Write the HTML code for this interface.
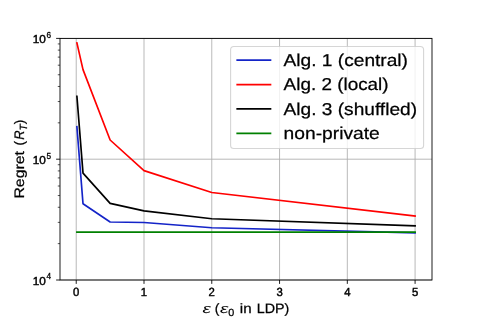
<!DOCTYPE html>
<html lang="en"><head><meta charset="utf-8"><title>Regret vs epsilon</title>
<style>
html,body{margin:0;padding:0;background:#fff;}
body{width:480px;height:320px;overflow:hidden;}
svg{display:block;will-change:transform;}
text{text-rendering:geometricPrecision;font-family:"Liberation Sans",sans-serif;fill:#000;stroke:#000;stroke-width:0.25;}
.i{font-style:italic;}
.tk{stroke-width:0.45;}
.sp{stroke-width:0.3;text-rendering:auto;}
</style></head><body>
<svg width="480" height="320" viewBox="0 0 480 320">
<rect width="480" height="320" fill="#fff"/>
<g stroke="#b0b0b0" stroke-width="0.89" fill="none">
<line x1="76.23" y1="38.40" x2="76.23" y2="280.00"/>
<line x1="144.00" y1="38.40" x2="144.00" y2="280.00"/>
<line x1="211.78" y1="38.40" x2="211.78" y2="280.00"/>
<line x1="279.55" y1="38.40" x2="279.55" y2="280.00"/>
<line x1="347.32" y1="38.40" x2="347.32" y2="280.00"/>
<line x1="415.09" y1="38.40" x2="415.09" y2="280.00"/>
<line x1="60.00" y1="280.00" x2="432.00" y2="280.00"/>
<line x1="60.00" y1="159.20" x2="432.00" y2="159.20"/>
<line x1="60.00" y1="38.40" x2="432.00" y2="38.40"/>
</g>
<g fill="none" stroke-width="1.67" stroke-linecap="square" stroke-linejoin="round">
<polyline stroke="#1424c8" points="76.91,126.70 83.01,203.75 110.12,222.00 144.00,222.50 211.78,227.75 415.09,232.80"/>
<polyline stroke="#ff0000" points="76.91,43.00 83.01,69.60 110.12,140.00 144.00,170.60 211.78,192.50 415.09,216.00"/>
<polyline stroke="#000000" points="76.91,96.30 83.01,173.10 110.12,203.40 144.00,210.90 211.78,218.75 415.09,225.90"/>
<polyline stroke="#008000" points="76.91,232.20 83.01,232.20 110.12,232.20 144.00,232.20 211.78,232.20 415.09,232.20"/>
</g>
<g stroke="#000" stroke-width="0.89" fill="none">
<line x1="76.23" y1="280.00" x2="76.23" y2="283.89"/>
<line x1="144.00" y1="280.00" x2="144.00" y2="283.89"/>
<line x1="211.78" y1="280.00" x2="211.78" y2="283.89"/>
<line x1="279.55" y1="280.00" x2="279.55" y2="283.89"/>
<line x1="347.32" y1="280.00" x2="347.32" y2="283.89"/>
<line x1="415.09" y1="280.00" x2="415.09" y2="283.89"/>
<line x1="56.11" y1="280.00" x2="60.00" y2="280.00"/>
<line x1="56.11" y1="159.20" x2="60.00" y2="159.20"/>
<line x1="56.11" y1="38.40" x2="60.00" y2="38.40"/>
</g>
<g stroke="#000" stroke-width="0.67" fill="none">
<line x1="57.78" y1="243.64" x2="60.00" y2="243.64"/>
<line x1="57.78" y1="222.36" x2="60.00" y2="222.36"/>
<line x1="57.78" y1="207.27" x2="60.00" y2="207.27"/>
<line x1="57.78" y1="195.56" x2="60.00" y2="195.56"/>
<line x1="57.78" y1="186.00" x2="60.00" y2="186.00"/>
<line x1="57.78" y1="177.91" x2="60.00" y2="177.91"/>
<line x1="57.78" y1="170.91" x2="60.00" y2="170.91"/>
<line x1="57.78" y1="164.73" x2="60.00" y2="164.73"/>
<line x1="57.78" y1="122.84" x2="60.00" y2="122.84"/>
<line x1="57.78" y1="101.56" x2="60.00" y2="101.56"/>
<line x1="57.78" y1="86.47" x2="60.00" y2="86.47"/>
<line x1="57.78" y1="74.76" x2="60.00" y2="74.76"/>
<line x1="57.78" y1="65.20" x2="60.00" y2="65.20"/>
<line x1="57.78" y1="57.11" x2="60.00" y2="57.11"/>
<line x1="57.78" y1="50.11" x2="60.00" y2="50.11"/>
<line x1="57.78" y1="43.93" x2="60.00" y2="43.93"/>
</g>
<rect x="60.00" y="38.40" width="372.00" height="241.60" fill="none" stroke="#000" stroke-width="0.89"/>
<text class="tk" x="76.23" y="296.20" font-size="11.80" text-anchor="middle" transform="translate(76.23 0) scale(0.960 1) translate(-76.23 0)">0</text>
<text class="tk" x="144.00" y="296.20" font-size="11.80" text-anchor="middle" transform="translate(144.00 0) scale(0.960 1) translate(-144.00 0)">1</text>
<text class="tk" x="211.78" y="296.20" font-size="11.80" text-anchor="middle" transform="translate(211.78 0) scale(0.960 1) translate(-211.78 0)">2</text>
<text class="tk" x="279.55" y="296.20" font-size="11.80" text-anchor="middle" transform="translate(279.55 0) scale(0.960 1) translate(-279.55 0)">3</text>
<text class="tk" x="347.32" y="296.20" font-size="11.80" text-anchor="middle" transform="translate(347.32 0) scale(0.960 1) translate(-347.32 0)">4</text>
<text class="tk" x="415.09" y="296.20" font-size="11.80" text-anchor="middle" transform="translate(415.09 0) scale(0.960 1) translate(-415.09 0)">5</text>
<text class="tk"><tspan x="32.70" y="43.00" font-size="11.60" textLength="13.10" lengthAdjust="spacingAndGlyphs">10</tspan><tspan class="sp" x="46.50" y="37.70" font-size="8.40" textLength="4.60" lengthAdjust="spacingAndGlyphs">6</tspan></text>
<text class="tk"><tspan x="32.70" y="163.80" font-size="11.60" textLength="13.10" lengthAdjust="spacingAndGlyphs">10</tspan><tspan class="sp" x="46.50" y="158.50" font-size="8.40" textLength="4.60" lengthAdjust="spacingAndGlyphs">5</tspan></text>
<text class="tk"><tspan x="32.70" y="284.60" font-size="11.60" textLength="13.10" lengthAdjust="spacingAndGlyphs">10</tspan><tspan class="sp" x="46.50" y="279.30" font-size="8.40" textLength="4.60" lengthAdjust="spacingAndGlyphs">4</tspan></text>
<text><tspan class="i" x="202.60" y="313.20" font-size="13.20" textLength="8.40" lengthAdjust="spacingAndGlyphs" style="stroke-width:0.0">ε</tspan> <tspan x="214.80" y="313.20" font-size="13.60" textLength="4.60" lengthAdjust="spacingAndGlyphs">(</tspan><tspan class="i" x="220.00" y="313.20" font-size="13.20" textLength="8.40" lengthAdjust="spacingAndGlyphs" style="stroke-width:0.0">ε</tspan><tspan x="228.20" y="316.10" font-size="10.40" textLength="6.00" lengthAdjust="spacingAndGlyphs">0</tspan> <tspan x="239.80" y="313.20" font-size="13.60" textLength="11.80" lengthAdjust="spacingAndGlyphs">in</tspan> <tspan x="256.80" y="313.20" font-size="13.60" textLength="32.60" lengthAdjust="spacingAndGlyphs">LDP)</tspan></text>
<g transform="translate(24.40 198.60) rotate(-90)">
<text><tspan x="0.00" y="0.00" font-size="13.80" textLength="47.60" lengthAdjust="spacingAndGlyphs">Regret</tspan> <tspan x="53.20" y="0.00" font-size="13.80" textLength="4.60" lengthAdjust="spacingAndGlyphs">(</tspan><tspan class="i" x="58.80" y="0.00" font-size="13.80" textLength="9.40" lengthAdjust="spacingAndGlyphs">R</tspan><tspan class="i" x="68.20" y="2.90" font-size="10.40" textLength="6.20" lengthAdjust="spacingAndGlyphs">T</tspan><tspan x="74.40" y="0.00" font-size="13.80" textLength="4.60" lengthAdjust="spacingAndGlyphs">)</tspan></text>
</g>
<rect x="230.6" y="46.5" width="193.0" height="102.0" rx="3.3" ry="3.3" fill="#fff" fill-opacity="0.8" stroke="#cccccc" stroke-opacity="0.8" stroke-width="1.11"/>
<g fill="none" stroke-width="1.67" stroke-linecap="square">
<line x1="237.2" y1="60.20" x2="270.5" y2="60.20" stroke="#1424c8"/>
<line x1="237.2" y1="84.60" x2="270.5" y2="84.60" stroke="#ff0000"/>
<line x1="237.2" y1="108.90" x2="270.5" y2="108.90" stroke="#000000"/>
<line x1="237.2" y1="133.30" x2="270.5" y2="133.30" stroke="#008000"/>
</g>
<text x="283.60" y="65.80" font-size="17.20" textLength="124.4" lengthAdjust="spacingAndGlyphs">Alg. 1 (central)</text>
<text x="283.60" y="90.20" font-size="17.20" textLength="105.0" lengthAdjust="spacingAndGlyphs">Alg. 2 (local)</text>
<text x="283.60" y="114.50" font-size="17.20" textLength="133.4" lengthAdjust="spacingAndGlyphs">Alg. 3 (shuffled)</text>
<text x="283.60" y="138.90" font-size="17.20" textLength="96.2" lengthAdjust="spacingAndGlyphs">non-private</text>
</svg>
</body></html>
